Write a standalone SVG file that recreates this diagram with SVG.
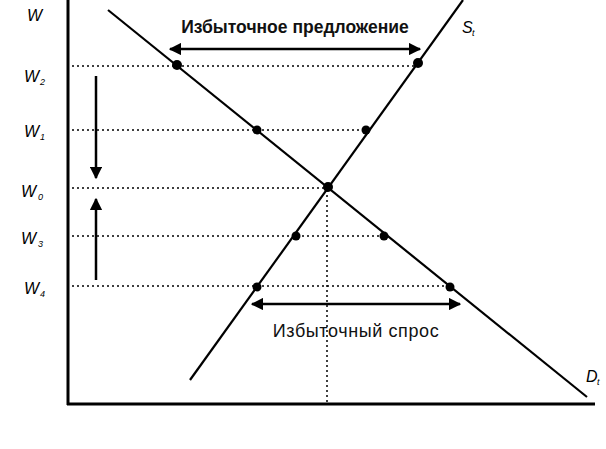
<svg xmlns="http://www.w3.org/2000/svg" width="606" height="449" viewBox="0 0 606 449">
<defs>
<style>
.ax{stroke:#000;stroke-width:3;fill:none}
.ln{stroke:#000;stroke-width:2.2;fill:none}
.dt{stroke:#000;stroke-width:1.5;stroke-dasharray:2 3;fill:none}
.ar{stroke:#000;stroke-width:2.5;fill:none}
.pt{fill:#000}
.lb{font-family:"Liberation Sans",Arial,sans-serif;font-style:italic;font-size:16px;fill:#000}
.sb{font-family:"Liberation Sans",Arial,sans-serif;font-style:italic;font-size:9px;fill:#000}
.t1{font-family:"Liberation Sans",Arial,sans-serif;font-weight:bold;font-size:17.5px;fill:#111}
.t2{font-family:"Liberation Sans",Arial,sans-serif;font-size:18px;letter-spacing:0.6px;fill:#111}
</style>
<marker id="ah" viewBox="0 0 10 10" refX="9" refY="5" markerWidth="5" markerHeight="5" orient="auto-start-reverse" markerUnits="strokeWidth">
<path d="M0,0 L10,5 L0,10 z" fill="#000"/>
</marker>
</defs>
<rect width="606" height="449" fill="#fff"/>
<g id="axes">
<line class="ax" x1="68" y1="0" x2="68" y2="405"/>
<line class="ax" x1="67" y1="404" x2="595" y2="404"/>
</g>
<g id="connectors">
<line class="dt" x1="72" y1="66" x2="418" y2="66"/>
<line class="dt" x1="72" y1="130" x2="366" y2="130"/>
<line class="dt" x1="72" y1="188" x2="328" y2="188"/>
<line class="dt" x1="72" y1="236" x2="384" y2="236"/>
<line class="dt" x1="72" y1="286" x2="450" y2="286"/>
<line class="dt" x1="327" y1="190" x2="327" y2="403"/>
<line class="ar" x1="170" y1="49" x2="420" y2="49" marker-start="url(#ah)" marker-end="url(#ah)"/>
<line class="ar" x1="252" y1="304" x2="460" y2="304" marker-start="url(#ah)" marker-end="url(#ah)"/>
<line class="ar" x1="96" y1="76" x2="96" y2="178" marker-end="url(#ah)"/>
<line class="ar" x1="96" y1="280" x2="96" y2="199" marker-end="url(#ah)"/>
</g>
<g id="demand">
<line class="ln" x1="108" y1="10" x2="587" y2="397"/>
<text class="lb" x="586" y="382">D</text><text class="sb" x="597" y="385">t</text>
</g>
<g id="supply">
<line class="ln" x1="463" y1="0" x2="190" y2="380"/>
<text class="lb" x="462" y="33">S</text><text class="sb" x="472" y="36">t</text>
</g>
<g id="points">
<circle class="pt" cx="177" cy="65" r="5"/>
<circle class="pt" cx="418" cy="63" r="5"/>
<circle class="pt" cx="257" cy="130" r="4.5"/>
<circle class="pt" cx="366" cy="130" r="4.5"/>
<circle class="pt" cx="328" cy="187" r="5"/>
<circle class="pt" cx="296" cy="236" r="4.5"/>
<circle class="pt" cx="384" cy="236" r="4.5"/>
<circle class="pt" cx="257" cy="287" r="4.5"/>
<circle class="pt" cx="450" cy="287" r="4.5"/>
</g>
<g id="labels">
<text class="lb" x="27" y="21">W</text>
<text class="lb" x="24" y="82">W</text><text class="sb" x="40" y="85">2</text>
<text class="lb" x="24" y="137">W</text><text class="sb" x="40" y="140">1</text>
<text class="lb" x="21" y="197">W</text><text class="sb" x="38" y="200">0</text>
<text class="lb" x="21" y="244">W</text><text class="sb" x="38" y="247">3</text>
<text class="lb" x="24" y="294">W</text><text class="sb" x="40" y="297">4</text>
<text class="t1" x="295" y="33" text-anchor="middle">Избыточное предложение</text>
<text class="t2" x="356" y="337" text-anchor="middle">Избыточный спрос</text>
</g>
</svg>
